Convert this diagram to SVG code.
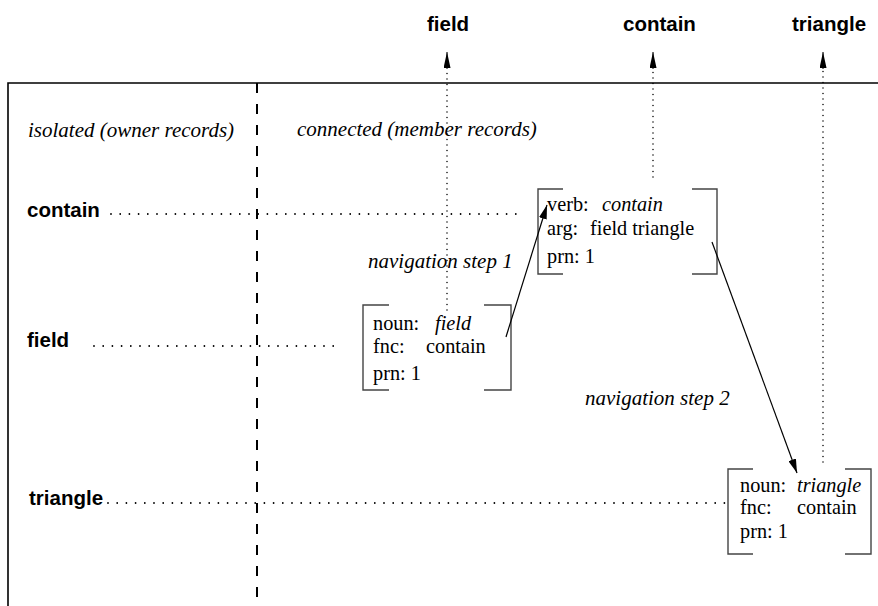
<svg xmlns="http://www.w3.org/2000/svg" width="878" height="606" viewBox="0 0 878 606">
<style>
.bold{font-family:"Liberation Sans",Arial,sans-serif;font-weight:bold;font-size:20.5px;fill:#000}
.it{font-family:"Liberation Serif","Times New Roman",serif;font-style:italic;font-size:21px;fill:#000}
.rec{font-family:"Liberation Serif","Times New Roman",serif;font-size:20.3px;fill:#000}
.rec .i{font-style:italic}
.frame{stroke:#000;stroke-width:1.6;fill:none}
.dash{stroke:#000;stroke-width:2;stroke-dasharray:10 11;fill:none}
.hdot{stroke:#000;stroke-width:1.8;stroke-dasharray:0 9.2;stroke-linecap:round;fill:none}
.vdot{stroke:#000;stroke-width:1.5;stroke-dasharray:0 5.5;stroke-linecap:round;fill:none}
.br{stroke:#444;stroke-width:1.4;fill:none}
.nav{stroke:#000;stroke-width:1.2;fill:none}
</style>
<defs>
<marker id="up" viewBox="0 0 16 7" refX="16" refY="3.5" markerWidth="16" markerHeight="7" markerUnits="userSpaceOnUse" orient="auto">
<path d="M0,0 L16,3.5 L0,7 z" fill="#000"/>
</marker>
<marker id="nv" viewBox="0 0 14 8" refX="14" refY="4" markerWidth="14" markerHeight="8" markerUnits="userSpaceOnUse" orient="auto">
<path d="M0,0 L14,4 L0,8 z" fill="#000"/>
</marker>
</defs>

<g id="frame">
<path class="frame" d="M8,606 V83 H878"/>
<path class="dash" d="M257,83 V606"/>
</g>

<g id="column-labels">
<text class="bold" x="427" y="31">field</text>
<text class="bold" x="623" y="31">contain</text>
<text class="bold" x="792" y="31">triangle</text>
</g>

<g id="region-labels">
<text class="it" x="28" y="137">isolated (owner records)</text>
<text class="it" x="297" y="136">connected (member records)</text>
</g>

<g id="owner-contain"><text class="bold" x="27" y="217">contain</text></g>
<g id="owner-field"><text class="bold" x="27" y="347">field</text></g>
<g id="owner-triangle"><text class="bold" x="29" y="505">triangle</text></g>

<g id="record-contain">
<path class="br" d="M563,189 H538 V274 H563 M692,189 H717 V274 H692"/>
<text class="rec" x="547" y="211">verb:  <tspan class="i" x="602">contain</tspan></text>
<text class="rec" x="547" y="235">arg:  <tspan x="590">field triangle</tspan></text>
<text class="rec" x="547" y="263">prn: 1</text>
</g>

<g id="record-field">
<path class="br" d="M389,305 H363 V390 H389 M484,305 H511 V390 H484"/>
<text class="rec" x="373" y="330">noun: <tspan class="i" x="435">field</tspan></text>
<text class="rec" x="373" y="353">fnc: <tspan x="426">contain</tspan></text>
<text class="rec" x="373" y="380">prn: 1</text>
</g>

<g id="record-triangle">
<path class="br" d="M753,469 H728 V554 H753 M845,469 H871 V554 H845"/>
<text class="rec" x="740" y="492">noun: <tspan class="i" x="797">triangle</tspan></text>
<text class="rec" x="740" y="514">fnc: <tspan x="797">contain</tspan></text>
<text class="rec" x="740" y="538">prn: 1</text>
</g>

<g id="nav-labels">
<text class="it" x="368" y="268">navigation step 1</text>
<text class="it" x="585" y="405">navigation step 2</text>
</g>

<g id="connectors">
<path class="hdot" d="M111,214 H524"/>
<path class="hdot" d="M94,346 H340"/>
<path class="hdot" d="M108,503 H726"/>
<path class="vdot" d="M447,310 V69"/>
<path class="vdot" d="M653,177 V69"/>
<path class="vdot" d="M823,462 V69"/>
<path d="M447,69 V52" stroke="#000" stroke-width="1" marker-end="url(#up)"/>
<path d="M653,69 V52" stroke="#000" stroke-width="1" marker-end="url(#up)"/>
<path d="M823,69 V52" stroke="#000" stroke-width="1" marker-end="url(#up)"/>
<path class="nav" d="M506,337 L547,205" marker-end="url(#nv)"/>
<path class="nav" d="M712,242 L797,473" marker-end="url(#nv)"/>
</g>
</svg>
